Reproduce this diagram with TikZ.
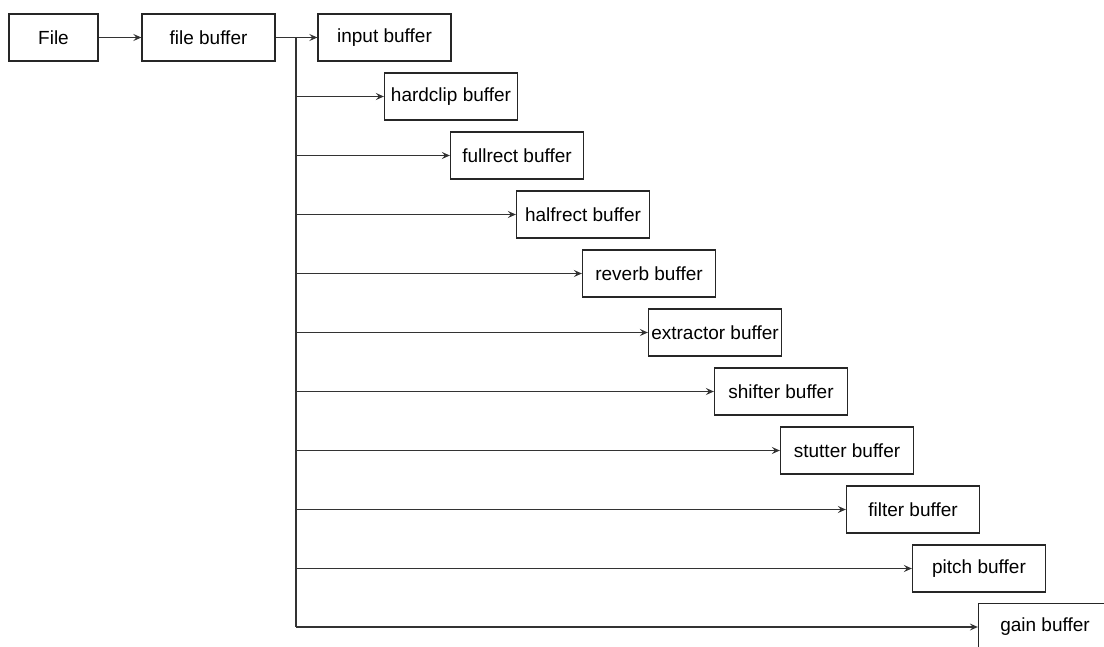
\documentclass[tikz,border=0pt]{standalone}
\usepackage{fontspec}
\setmainfont{Liberation Sans}
\usetikzlibrary{arrows.meta}
\begin{document}
\begin{tikzpicture}[x=1pt,y=-1pt,
  box/.style={draw=black!85,line width=1.3pt,minimum width=133pt,minimum height=47pt,inner sep=0pt,font=\fontsize{19}{21}\selectfont},
  line/.style={draw=black!80,line width=1.3pt},
  conn/.style={line,-{Stealth[length=8pt,width=7pt,inset=3pt]}}]
\useasboundingbox (0,0) rectangle (1104,646);
\node[box,minimum width=89pt] (file) at (53.5,37.5) {File};
\node[box] (fb) at (208.5,37.5) {file buffer};
\node[box] (ib) at (384.5,37.5) {input buffer};
\node[box] (hc) at (451,96.5) {hardclip buffer};
\node[box] (fr) at (517,155.5) {fullrect buffer};
\node[box] (hr) at (583,214.5) {halfrect buffer};
\node[box] (rv) at (649,273.5) {reverb buffer};
\node[box] (ex) at (715,332.5) {extractor buffer};
\node[box] (sh) at (781,391.5) {shifter buffer};
\node[box] (st) at (847,450.5) {stutter buffer};
\node[box] (fi) at (913,509.5) {filter buffer};
\node[box] (pi) at (979,568.5) {pitch buffer};
\node[box] (ga) at (1045,627) {gain buffer};
\coordinate (j) at (296,37.5);
\draw[conn] (file) -- (fb);
\draw[conn] (fb) -- (ib);
\draw[line] (j) -- (j |- ga.west);
\foreach \n in {hc,fr,hr,rv,ex,sh,st,fi,pi,ga}{
  \draw[conn] (j |- \n.west) -- (\n.west);
}
\end{tikzpicture}
\end{document}
